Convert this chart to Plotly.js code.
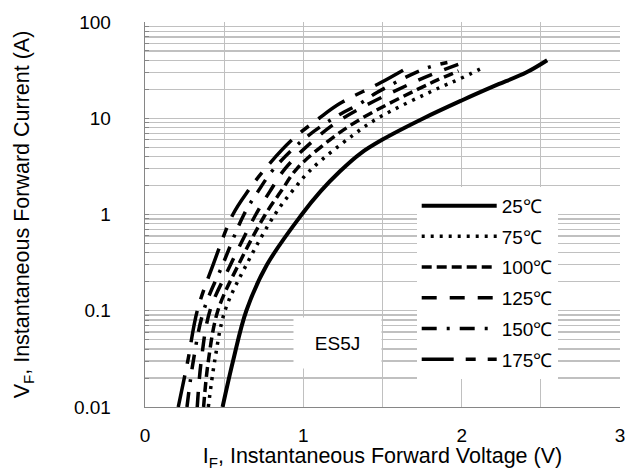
<!DOCTYPE html>
<html>
<head>
<meta charset="utf-8">
<script src="https://cdn.plot.ly/plotly-3.0.1.min.js"></script>
<style>html,body{margin:0;padding:0;background:#fff;}#chart{width:625px;height:471px;}</style>
</head>
<body>
<div id="chart"></div>
<script>
// Series data (V = forward voltage, I = forward current)
var seriesNames = ['25℃', '75℃', '100℃', '125℃', '150℃', '175℃'];

var v25 = [0.49, 0.556, 0.64, 0.77, 0.99, 1.11, 1.23, 1.36, 1.50, 1.76, 2.0, 2.2, 2.41, 2.54];
var i25 = [0.01, 0.03, 0.1, 0.3, 1, 1.75, 2.8, 4.3, 6.0, 10, 15.3, 21.4, 30, 40];

var v75 = [0.40, 0.44, 0.505, 0.64, 0.82, 0.93, 1.055, 1.31, 1.47, 1.86, 1.98, 2.15];
var i75 = [0.01, 0.03, 0.1, 0.3, 1, 1.75, 3, 6.6, 10, 20.8, 25.3, 34.5];

var v100 = [0.37, 0.40, 0.46, 0.59, 0.76, 0.86, 0.96, 1.17, 1.37, 1.80, 1.98];
var i100 = [0.01, 0.03, 0.1, 0.3, 1, 1.75, 3, 6, 10, 23, 31];

var v125 = [0.33, 0.355, 0.41, 0.54, 0.70, 0.79, 0.885, 1.07, 1.25, 1.72, 2.05];
var i125 = [0.01, 0.03, 0.1, 0.3, 1, 1.75, 3, 6, 10, 24.6, 40];

var v150 = [0.265, 0.305, 0.37, 0.49, 0.625, 0.715, 0.815, 1.00, 1.19, 1.37, 1.465, 1.77, 1.91];
var i150 = [0.01, 0.03, 0.1, 0.3, 1, 1.75, 3, 6, 10, 14.6, 18.5, 32.9, 38];

var v175 = [0.21, 0.27, 0.33, 0.43, 0.555, 0.65, 0.76, 0.93, 1.10, 1.23, 1.49, 1.69];
var i175 = [0.01, 0.03, 0.1, 0.3, 1, 1.75, 3, 6, 10, 14.2, 23.5, 36];

var xTickVals = [0, 1, 2, 3];
var xTickText = ['0', '1', '2', '3'];
var yTickVals = [0.01, 0.1, 1, 10, 100];
var yTickText = ['0.01', '0.1', '1', '10', '100'];
var partLabel = 'ES5J';

var xs = [v25, v75, v100, v125, v150, v175];
var ys = [i25, i75, i100, i125, i150, i175];
var dashes = ['solid', '3px,6px', '10px,5px', '15px,13px', '15px,10px,3px,10px', '32px,12px,10px,12px'];
var widths = [4, 3.5, 3.5, 3.5, 3.5, 3.5];

var traces = seriesNames.map(function (n, k) {
  return {
    x: xs[k], y: ys[k], name: n, type: 'scatter', mode: 'lines',
    legendgroup: 'g' + k,
    line: {color: '#000', width: widths[k], dash: dashes[k], shape: 'spline', smoothing: 1}
  };
});

var font = 'Liberation Sans, Arial, sans-serif';
var grid = '#c0c0c0';
var axisCol = '#868686';

var layout = {
  width: 625, height: 471,
  margin: {l: 145, r: 5, t: 22, b: 64},
  paper_bgcolor: '#fff', plot_bgcolor: '#fff',
  font: {family: font, size: 19, color: '#000'},
  showlegend: true,
  legend: {
    x: 0.572, y: 0.572, xanchor: 'left', yanchor: 'top',
    bgcolor: '#fff', borderwidth: 0,
    font: {family: font, size: 19, color: '#000'},
    traceorder: 'grouped', tracegroupgap: 3, itemwidth: 75
  },
  xaxis: {
    range: [0, 3], tickmode: 'array', tickvals: xTickVals, ticktext: xTickText,
    showgrid: true, gridcolor: grid, gridwidth: 1.3, zeroline: false,
    minor: {dtick: 0.5, showgrid: true, gridcolor: grid, gridwidth: 1.3},
    showline: true, linecolor: axisCol, linewidth: 1.3, ticks: '',
    ticklabelstandoff: 11, ticklabeloverflow: 'allow',
    tickfont: {family: font, size: 19, color: '#000'},
    title: {text: 'I<sub>F</sub>, Instantaneous Forward Voltage (V)', font: {family: font, size: 21.5, color: '#000'}, standoff: 9},
    automargin: false, fixedrange: true
  },
  yaxis: {
    type: 'log', range: [-2, 2], tickmode: 'array', tickvals: yTickVals, ticktext: yTickText,
    showgrid: true, gridcolor: grid, gridwidth: 1.3, zeroline: false,
    minor: {dtick: 'D1', showgrid: true, gridcolor: grid, gridwidth: 1.3, ticks: 'inside', ticklen: 4, tickcolor: axisCol},
    ticks: 'inside', ticklen: 4, tickcolor: axisCol,
    showline: true, linecolor: axisCol, linewidth: 1.3,
    ticklabelstandoff: 29, ticklabeloverflow: 'allow',
    tickfont: {family: font, size: 19, color: '#000'},
    title: {text: 'V<sub>F</sub>, Instantaneous Forward Current (A)', font: {family: font, size: 21.5, color: '#000'}, standoff: 38},
    automargin: false, fixedrange: true
  },
  annotations: [{
    xref: 'paper', yref: 'paper', x: 0.406, y: 0.167, xanchor: 'center', yanchor: 'middle',
    text: partLabel, showarrow: false, bgcolor: '#fff', width: 85, height: 48,
    font: {family: font, size: 19, color: '#000'}
  }]
};

Plotly.newPlot('chart', traces, layout, {displayModeBar: false, staticPlot: true});
</script>
</body>
</html>
